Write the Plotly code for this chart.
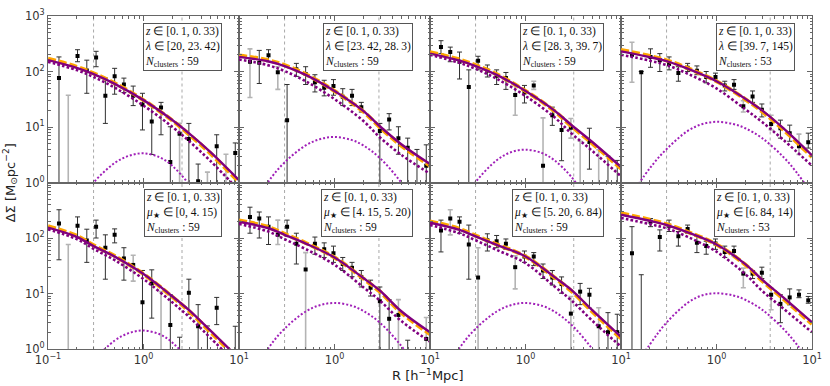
import plotly.graph_objects as go
from plotly.subplots import make_subplots

# ---------------- data ----------------
R_BINS = [0.1303, 0.1630, 0.2038, 0.2549, 0.3188, 0.3987, 0.4987, 0.6237, 0.7801, 0.9757,
          1.220, 1.526, 1.909, 2.387, 2.986, 3.734, 4.670, 5.841, 7.305, 9.137]
R_MODEL = [0.1, 0.2, 0.3, 0.5, 1.0, 2.0, 3.0, 5.0, 10.0]
R_HUMP = [0.1, 0.2, 0.3, 0.5, 0.7, 1.0, 1.5, 2.0, 3.0, 5.0, 7.0, 10.0]
R_INNER = 0.3
R_CUT = [2.53, 2.92, 3.2, 3.65]

Z_BIN = "[0.1, 0.33)"
LAMBDA_BINS = ["[20, 23.42)", "[23.42, 28.3)", "[28.3, 39.7)", "[39.7, 145)"]
MU_BINS = ["[0, 4.15)", "[4.15, 5.20)", "[5.20, 6.84)", "[6.84, 14)"]
N_CLUSTERS = [59, 59, 59, 53]

# measured Delta Sigma (value, upper end, lower end; None = below the axis)
ds_lam1 = [76.4, 0.5, 191, 104, 178, 36.4, 81.7, 58.3, 36.4, 25.4, 12.6, 22.4, 2.33, 7.53, 6.08, 1.05, 0.5, 4.52, 0.5, 3.41]
hi_lam1 = [183, 37.4, 247, 160, 231, 76, 114, 76, 54.6, 40.5, 24.3, 27.8, 10.1, 11.6, 11.6, 2.15, 1.54, 7.24, 3.23, 5.16]
lo_lam1 = [None, None, 150, 40.5, 122, 11.6, 39, 41.7, 24.3, 8.85, 3.2, 7.24, None, None, None, None, None, None, None, None]
gray_lam1 = [1, 13, 16, 18]

ds_lam2 = [150, 144, 196, 97.3, 13.3, 110, 89.7, 64.1, 51, 54.6, 35, 36.4, 22.8, 0.5, 8.5, 13.6, 6.3, 4.23, 0.5, 2.0]
hi_lam2 = [256, 240, 247, 122, 58.3, 140, 122, 87.5, 69.5, 71.4, 49, 47.6, 27.8, 0.6, 11.6, 17.4, 10.1, 6.3, 3.94, 4.77]
lo_lam2 = [34, 60.8, 150, 47.6, None, 81.7, 58.3, 42.8, 36.4, 37.4, 24.3, 24.3, 18.6, None, None, 8.85, 3.23, None, None, None]
gray_lam2 = [0, 3]

ds_lam3 = [275, 224, 150, 52.4, 156, 104, 84, 76.4, 37.9, 41.7, 56.1, 2.01, 16.3, 8.85, 9.73, 0.5, 5.38, 0.5, 0.5, 0.5]
hi_lam3 = [359, 275, 224, 107, 188, 131, 107, 96, 56.1, 56.1, 66.8, 14.6, 22.8, 15.2, 14.2, 5.53, 9.5, 3.9, 2.98, 2.5]
lo_lam3 = [210, 150, 73.3, None, 107, 79.6, 58.3, 47.6, 16.3, 27.1, 47.6, None, 10.7, 2.47, 6.3, None, 1.74, None, None, None]
gray_lam3 = [8, 10, 11, 14, 15, 17]

ds_lam4 = [201, 97.3, 183, 160, 137, 93.5, 117, 103, 79.6, 79.6, 56.1, 57.6, 23.7, 35.5, 20.4, 11.3, 9.5, 7.74, 4.52, 5.31]
hi_lam4 = [336, 100, 256, 210, 183, 122, 140, 126, 100, 93.5, 66.8, 71.4, 29.8, 44.6, 26, 16.3, 13.3, 10.8, 7.43, 7.74]
lo_lam4 = [64.1, None, 119, 100, 107, 66.8, 100, 87.5, 62.4, 69.5, 44.6, 47.6, 18.6, 27.8, 15.2, 8.85, 6.3, 5.53, 3.19, 4.17]
gray_lam4 = [0, 12, 15, 18]

ds_mu1 = [183, 0.5, 167, 89.7, 160, 66.8, 114, 42.8, 32.7, 6.95, 15.2, 0.5, 2.71, 0.5, 10.3, 2.57, 0.5, 5.53, 0.5, 0.5]
hi_mu1 = [323, 76.4, 240, 144, 210, 114, 146, 66.8, 49, 26, 26.7, 10.8, 9.5, 1.63, 18.1, 6.3, 2.6, 8.5, 0.6, 2.57]
lo_mu1 = [40.5, None, 104, 36.4, 100, 18.1, 81.7, 17.4, 16.7, None, 3.6, None, None, None, 4.23, None, None, 2.75, None, None]
gray_mu1 = [1, 8, 11]

ds_mu2 = [240, 224, 160, 114, 160, 78.5, 27.1, 78.5, 62.4, 53.1, 34, 29, 19.9, 12.7, 7.24, 3.5, 4.11, 0.5, 0.5, 1.52]
hi_mu2 = [359, 294, 240, 210, 210, 122, 54.6, 104, 81.7, 71.4, 44.6, 36.4, 26, 17.4, 13.1, 7.74, 7.74, 1.44, 0.6, 3.69]
lo_mu2 = [122, 100, 76.4, 76.4, 107, 34, None, 51, 44.6, 36.4, 26, 20.1, 13.1, 9.0, None, None, None, None, None, None]
gray_mu2 = [3, 6, 16, 19]

ds_mu3 = [137, 224, 196, 76.4, 19.4, 91, 87.5, 78.5, 29.8, 46.4, 46.4, 26, 19.4, 14.8, 4.34, 10.8, 9.5, 2.57, 2.01, 2.01]
hi_mu3 = [210, 323, 240, 171, 66.8, 119, 111, 96, 47.6, 58.3, 54.6, 34, 26, 19.9, 8.85, 15.2, 12.4, 5.53, 4.52, 4.23]
lo_mu3 = [56.1, 114, 122, 18.1, None, 58.3, 66.8, 62.4, 12.1, 36.4, 31.8, 18.6, 14.2, 10.1, None, 6.3, 5.45, None, None, None]
gray_mu3 = [1, 4, 8, 14, 17]

ds_mu4 = [53.1, 0.5, 196, 104, 167, 107, 146, 81.7, 71.4, 79.6, 56.1, 58.3, 22.8, 22.8, 23.7, 9.5, 6.5, 8.5, 9.5, 7.53]
hi_mu4 = [160, 21.8, 224, 140, 210, 131, 171, 107, 87.5, 96, 71.4, 71.4, 28.6, 26, 29.8, 12.4, 9.5, 12.1, 11.6, 8.85]
lo_mu4 = [None, None, 160, 58.3, 131, 71.4, 122, 54.6, 51, 62.4, 44.6, 47.6, 12.7, 18.6, 18.6, 5.1, 2.98, 6.24, 8.4, 6.68]
gray_mu4 = [12, 15]

# model curves on R_MODEL (total, alternative, one-halo) and R_HUMP (bump term)
tot_lam1 = [160.3, 116.1, 89.5, 60.0, 30.5, 13.4, 7.69, 3.56, 1.10]
alt_lam1 = [170.0, 121.6, 92.7, 61.4, 30.5, 13.1, 7.35, 3.36, 1.02]
one_lam1 = [149.6, 105.9, 79.8, 51.1, 24.3, 10.1, 5.57, 2.46, 0.72]
hump_lam1 = [0.04, 0.387, 1.0, 2.25, 3.02, 3.36, 2.81, 2.0, 0.92, 0.21, 0.057, 0.011]

tot_lam2 = [183.2, 153.1, 125.6, 87.1, 44.6, 19.5, 10.2, 4.90, 2.15]
alt_lam2 = [194.1, 160.3, 130.0, 89.1, 44.6, 19.05, 9.77, 4.62, 2.01]
one_lam2 = [164.4, 130.3, 102.1, 66.8, 31.8, 12.9, 6.46, 3.16, 1.44]
hump_lam2 = [0.138, 1.0, 2.30, 4.66, 6.03, 6.6, 5.86, 4.66, 2.74, 1.0, 0.417, 0.138]

tot_lam3 = [209.9, 158.5, 125.6, 87.1, 44.6, 19.95, 10.96, 5.37, 1.905]
alt_lam3 = [222.3, 166.0, 130.0, 89.1, 44.6, 19.5, 10.47, 5.07, 1.78]
one_lam3 = [200.4, 144.5, 111.9, 74.1, 36.2, 15.1, 7.76, 3.72, 1.29]
hump_lam3 = [0.028, 0.35, 1.02, 2.52, 3.50, 3.9, 3.38, 2.52, 1.28, 0.35, 0.115, 0.028]

tot_lam4 = [230.7, 182.0, 153.8, 112.2, 66.8, 32.4, 19.95, 9.55, 3.09]
alt_lam4 = [244.3, 190.5, 159.2, 114.8, 66.8, 31.6, 19.05, 9.02, 2.88]
one_lam4 = [200.9, 156.7, 130.9, 91.2, 49.5, 20.9, 12.3, 5.89, 2.0]
hump_lam4 = [0.31, 1.8, 4.0, 8.5, 11.2, 12.4, 11.3, 9.5, 6.3, 2.9, 1.47, 0.62]

tot_mu1 = [153.8, 104.7, 71.4, 46.2, 22.4, 8.91, 5.01, 2.16, 0.676]
alt_mu1 = [162.9, 109.6, 74.0, 47.3, 22.4, 8.71, 4.79, 2.04, 0.631]
one_mu1 = [143.5, 95.5, 63.7, 39.8, 18.2, 6.92, 3.80, 1.60, 0.49]
hump_mu1 = [0.022, 0.229, 0.615, 1.42, 1.93, 2.15, 1.82, 1.31, 0.622, 0.15, 0.044, 0.009]

tot_mu2 = [195.9, 151.4, 114.3, 79.4, 44.6, 19.05, 11.2, 4.79, 2.0]
alt_mu2 = [207.5, 158.5, 118.3, 81.3, 44.6, 18.6, 10.7, 4.52, 1.86]
one_mu2 = [178.6, 131.8, 95.1, 63.1, 33.0, 13.0, 7.41, 3.20, 1.35]
hump_mu2 = [0.135, 1.0, 2.32, 4.74, 6.15, 6.76, 6.04, 4.86, 2.96, 1.14, 0.50, 0.178]

tot_mu3 = [188.4, 141.3, 106.9, 75.0, 46.5, 19.95, 11.75, 5.01, 1.66]
alt_mu3 = [199.5, 147.9, 110.7, 76.7, 46.5, 19.5, 11.2, 4.73, 1.55]
one_mu3 = [171.8, 123.0, 91.0, 61.0, 35.2, 13.5, 7.59, 3.24, 1.10]
hump_mu3 = [0.135, 1.0, 2.32, 4.74, 6.15, 6.76, 5.98, 4.74, 2.77, 1.0, 0.41, 0.135]

tot_mu4 = [263.0, 204.2, 171.4, 125.9, 76.4, 33.9, 17.8, 8.51, 3.02]
alt_mu4 = [278.6, 213.8, 177.4, 128.8, 76.4, 33.1, 17.0, 8.04, 2.82]
one_mu4 = [229.1, 177.8, 149.3, 104.7, 56.6, 22.4, 11.2, 5.37, 2.0]
hump_mu4 = [0.203, 1.2, 3.0, 6.8, 9.2, 10.1, 9.23, 7.71, 5.11, 2.32, 1.18, 0.50]

# ---------------- figure ----------------
panels = [
    (1, 1, ds_lam1, hi_lam1, lo_lam1, gray_lam1, tot_lam1, alt_lam1, one_lam1, hump_lam1),
    (1, 2, ds_lam2, hi_lam2, lo_lam2, gray_lam2, tot_lam2, alt_lam2, one_lam2, hump_lam2),
    (1, 3, ds_lam3, hi_lam3, lo_lam3, gray_lam3, tot_lam3, alt_lam3, one_lam3, hump_lam3),
    (1, 4, ds_lam4, hi_lam4, lo_lam4, gray_lam4, tot_lam4, alt_lam4, one_lam4, hump_lam4),
    (2, 1, ds_mu1, hi_mu1, lo_mu1, gray_mu1, tot_mu1, alt_mu1, one_mu1, hump_mu1),
    (2, 2, ds_mu2, hi_mu2, lo_mu2, gray_mu2, tot_mu2, alt_mu2, one_mu2, hump_mu2),
    (2, 3, ds_mu3, hi_mu3, lo_mu3, gray_mu3, tot_mu3, alt_mu3, one_mu3, hump_mu3),
    (2, 4, ds_mu4, hi_mu4, lo_mu4, gray_mu4, tot_mu4, alt_mu4, one_mu4, hump_mu4),
]

PURPLE = "#800080"
ORANGE = "#ffa500"
MAGENTA = "#a020b8"
FRAME = "#666666"
FLOOR = 0.01

fig = make_subplots(rows=2, cols=4, horizontal_spacing=0, vertical_spacing=0)


def spaced(s):
    return s.replace(".", ".\u2009")


for (row, col, ds, hi, lo, gray, tot, alt, one, hump) in panels:
    for is_gray in (True, False):
        idx = [i for i in range(len(ds)) if (i in gray) == is_gray]
        xs = [R_BINS[i] for i in idx]
        ys = [ds[i] for i in idx]
        ep = [hi[i] - ds[i] for i in idx]
        em = [ds[i] - (lo[i] if lo[i] is not None else FLOOR) for i in idx]
        fig.add_trace(go.Scatter(
            x=xs, y=ys, mode="markers",
            marker=dict(symbol="square", size=4, color="black"),
            error_y=dict(type="data", symmetric=False, array=ep, arrayminus=em,
                         color="#b4b4b4" if is_gray else "#303030",
                         thickness=1.6 if is_gray else 1.0, width=2.5),
            showlegend=False, hoverinfo="skip"), row=row, col=col)
    fig.add_trace(go.Scatter(x=R_HUMP, y=hump, mode="lines",
                             line=dict(color=MAGENTA, width=2.0, dash="2px,2px", shape="spline"),
                             showlegend=False, hoverinfo="skip"), row=row, col=col)
    fig.add_trace(go.Scatter(x=R_MODEL, y=one, mode="lines",
                             line=dict(color=PURPLE, width=2.6, dash="2.6px,2.2px", shape="spline"),
                             showlegend=False, hoverinfo="skip"), row=row, col=col)
    fig.add_trace(go.Scatter(x=R_MODEL, y=alt, mode="lines",
                             line=dict(color=ORANGE, width=4, dash="8px,3px", shape="spline"),
                             showlegend=False, hoverinfo="skip"), row=row, col=col)
    fig.add_trace(go.Scatter(x=R_MODEL, y=tot, mode="lines",
                             line=dict(color=PURPLE, width=2.4, shape="spline"),
                             showlegend=False, hoverinfo="skip"), row=row, col=col)

    n = (row - 1) * 4 + col
    xr = "x" if n == 1 else f"x{n}"
    yr = "y" if n == 1 else f"y{n}"
    for rv in (R_INNER, R_CUT[col - 1]):
        fig.add_shape(type="line", xref=xr, yref=f"{yr} domain", x0=rv, x1=rv, y0=0, y1=1,
                      line=dict(color="#a8a8a8", width=1, dash="dot"), layer="below")

    second = (f"<i>λ</i> ∈ {spaced(LAMBDA_BINS[col - 1])}" if row == 1
              else f"<i>μ</i><sub>★</sub> ∈ {spaced(MU_BINS[col - 1])}")
    txt = (f"<i>z</i> ∈ {spaced(Z_BIN)}<br>{second}<br>"
           f"<i>N</i><sub>clusters</sub> : {N_CLUSTERS[col - 1]}")
    fig.add_annotation(xref=f"{xr} domain", yref=f"{yr} domain", x=0.912, y=0.96,
                       xanchor="right", yanchor="top", align="left", showarrow=False,
                       text=txt, bordercolor="#555555", borderwidth=1, borderpad=1,
                       bgcolor="white",
                       font=dict(family="Liberation Serif", size=11.5, color="#111"))

    show_x = row == 2
    xtext = (["10<sup>−1</sup>", "10<sup>0</sup>", "10<sup>1</sup>"] if col == 1
             else [" ", "10<sup>0</sup>", "10<sup>1</sup>"])
    fig.update_xaxes(type="log", range=[-1, 1], tickvals=[0.1, 1, 10], ticktext=xtext,
                     showticklabels=show_x, row=row, col=col)
    ytext = (["10<sup>0</sup>", "10<sup>1</sup>", "10<sup>2</sup>", "10<sup>3</sup>"] if row == 1
             else ["10<sup>0</sup>", "10<sup>1</sup>", "10<sup>2</sup>", " "])
    fig.update_yaxes(type="log", range=[0, 3], tickvals=[1, 10, 100, 1000], ticktext=ytext,
                     showticklabels=(col == 1), row=row, col=col)

axis_style = dict(showline=True, linecolor=FRAME, linewidth=1, mirror="allticks",
                  ticks="inside", ticklen=5, tickcolor=FRAME, tickwidth=1,
                  showgrid=False, zeroline=False,
                  tickfont=dict(family="DejaVu Sans", size=11.5, color="#333333"),
                  minor=dict(ticks="inside", ticklen=2.5, tickcolor=FRAME, dtick="D1",
                             showgrid=False))
fig.update_xaxes(**axis_style)
fig.update_yaxes(**axis_style)

fig.add_annotation(xref="paper", yref="paper", x=-0.05, y=0.5, textangle=-90,
                   text="ΔΣ [M<sub>⊙</sub>pc<sup>−2</sup>]", showarrow=False,
                   xanchor="center", yanchor="middle",
                   font=dict(family="DejaVu Sans", size=13, color="#222"))
fig.add_annotation(xref="paper", yref="paper", x=0.497, y=-0.077,
                   text="R [h<sup>−1</sup>Mpc]", showarrow=False,
                   xanchor="center", yanchor="middle",
                   font=dict(family="DejaVu Sans", size=13, color="#222"))

fig.update_layout(width=830, height=386, margin=dict(l=48, r=13, t=8, b=37),
                  paper_bgcolor="white", plot_bgcolor="white", showlegend=False)

fig.write_html("out.html", config={"displayModeBar": False},
               post_script="document.body.style.margin='0px';")
